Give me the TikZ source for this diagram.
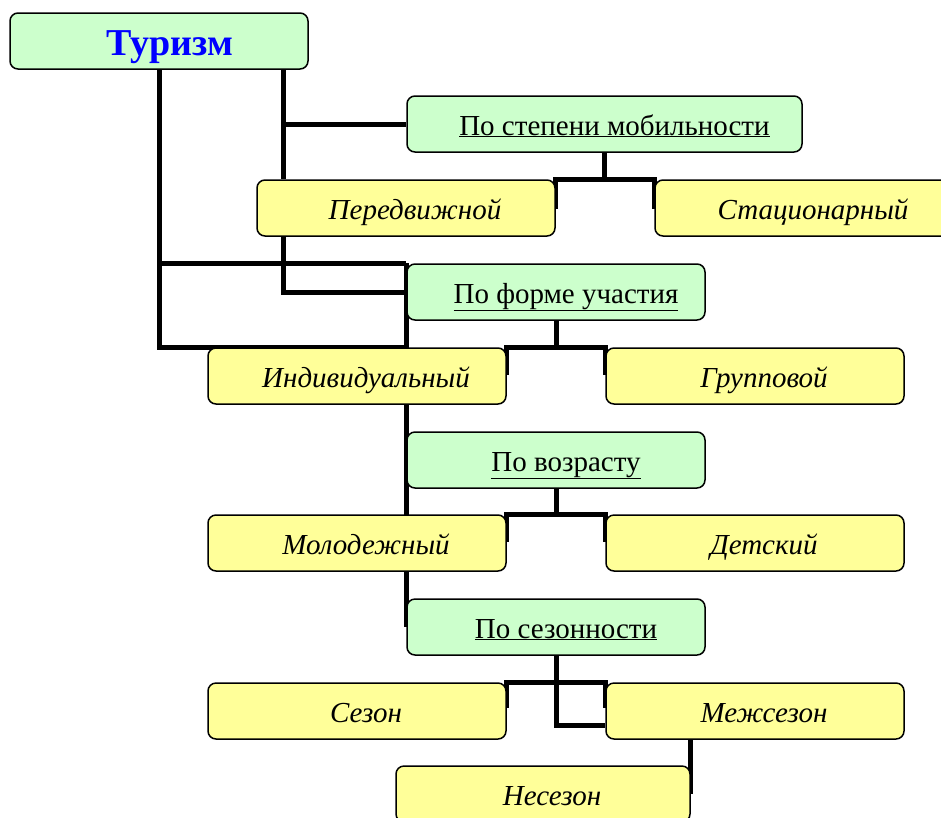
\documentclass[tikz,border=0pt]{standalone}
\usepackage{fontspec}
\setmainfont{Liberation Serif}
\usetikzlibrary{backgrounds}
\definecolor{grn}{HTML}{CCFFCC}
\definecolor{ylw}{HTML}{FFFF99}
\definecolor{ttl}{HTML}{0000FF}
\begin{document}
\begin{tikzpicture}[x=1pt,y=-1pt,
  box/.style={draw=black, line width=1.5pt, rounded corners=8pt,
    minimum width=298pt, minimum height=56pt, inner sep=0pt,
    text height=24pt, text depth=2pt},
  gbox/.style={box, fill=grn, font=\fontsize{29}{33}\selectfont},
  ybox/.style={box, fill=ylw, font=\fontsize{29}{33}\selectfont\itshape},
  conn/.style={line width=5pt, draw=black}
]
\useasboundingbox (0,0) rectangle (941,817);

\node[gbox, font=\fontsize{38}{44}\selectfont\bfseries, text=ttl, text height=32pt, text depth=4pt] (tur) at (159,41) {\hspace*{22pt}Туризм};
\node[gbox, minimum width=395pt] (mob) at (604.5,124) {\hspace*{20pt}\underline{По степени мобильности}};
\node[ybox] (per) at (406,208) {\hspace*{18pt}Передвижной};
\node[ybox] (stat) at (804,208) {\hspace*{18pt}Стационарный};
\node[gbox] (forma) at (556,292) {\hspace*{20pt}\underline{По форме участия}};
\node[ybox] (ind) at (357,376) {\hspace*{18pt}Индивидуальный};
\node[ybox] (grp) at (755,376) {\hspace*{18pt}Групповой};
\node[gbox] (voz) at (556,460) {\hspace*{20pt}\underline{По возрасту}};
\node[ybox] (mol) at (357,543) {\hspace*{18pt}Молодежный};
\node[ybox] (det) at (755,543) {\hspace*{18pt}Детский};
\node[gbox] (sez) at (556,627) {\hspace*{20pt}\underline{По сезонности}};
\node[ybox] (sezon) at (357,711) {\hspace*{18pt}Сезон};
\node[ybox] (mezh) at (755,711) {\hspace*{18pt}Межсезон};
\node[ybox, minimum width=294pt] (nesez) at (543,794) {\hspace*{18pt}Несезон};

\begin{scope}[on background layer]
  % from Туризм
  \draw[conn] (tur.south) -- (tur.south |- ind.north) -- (ind.north -| forma.west) -- (forma.north west);
  \draw[conn] (tur.south |- forma.north) -- (forma.north west);
  \draw[conn] ([xshift=124pt]tur.south) coordinate (t2) -- (t2 |- per.north);
  \draw[conn] (t2 |- mob.west) -- (mob.west);
  \draw[conn] (t2 |- per.south) -- (t2 |- forma.west) -- (forma.west);
  % spine
  \draw[conn] (forma.north west) -- (sez.west);
  % brackets
  \draw[conn] (mob.south) -- (mob.south |- per.north);
  \draw[conn] ([yshift=-30pt]per.north east) -- (per.north east) -- (stat.north west) -- ([yshift=-30pt]stat.north west);
  \draw[conn] (forma.south) -- (forma.south |- ind.north);
  \draw[conn] ([yshift=-28pt]ind.north east) -- (ind.north east) -- (grp.north west) -- ([yshift=-28pt]grp.north west);
  \draw[conn] (voz.south) -- (voz.south |- mol.north);
  \draw[conn] ([yshift=-28pt]mol.north east) -- (mol.north east) -- (det.north west) -- ([yshift=-28pt]det.north west);
  \draw[conn] (sez.south) |- ([yshift=-14pt]mezh.west);
  \draw[conn] ([yshift=-26pt]sezon.north east) -- (sezon.north east) -- (mezh.north west) -- ([yshift=-26pt]mezh.north west);
  \draw[conn] (mezh.south -| nesez.east) -- (nesez.east);
\end{scope}
\end{tikzpicture}
\end{document}
